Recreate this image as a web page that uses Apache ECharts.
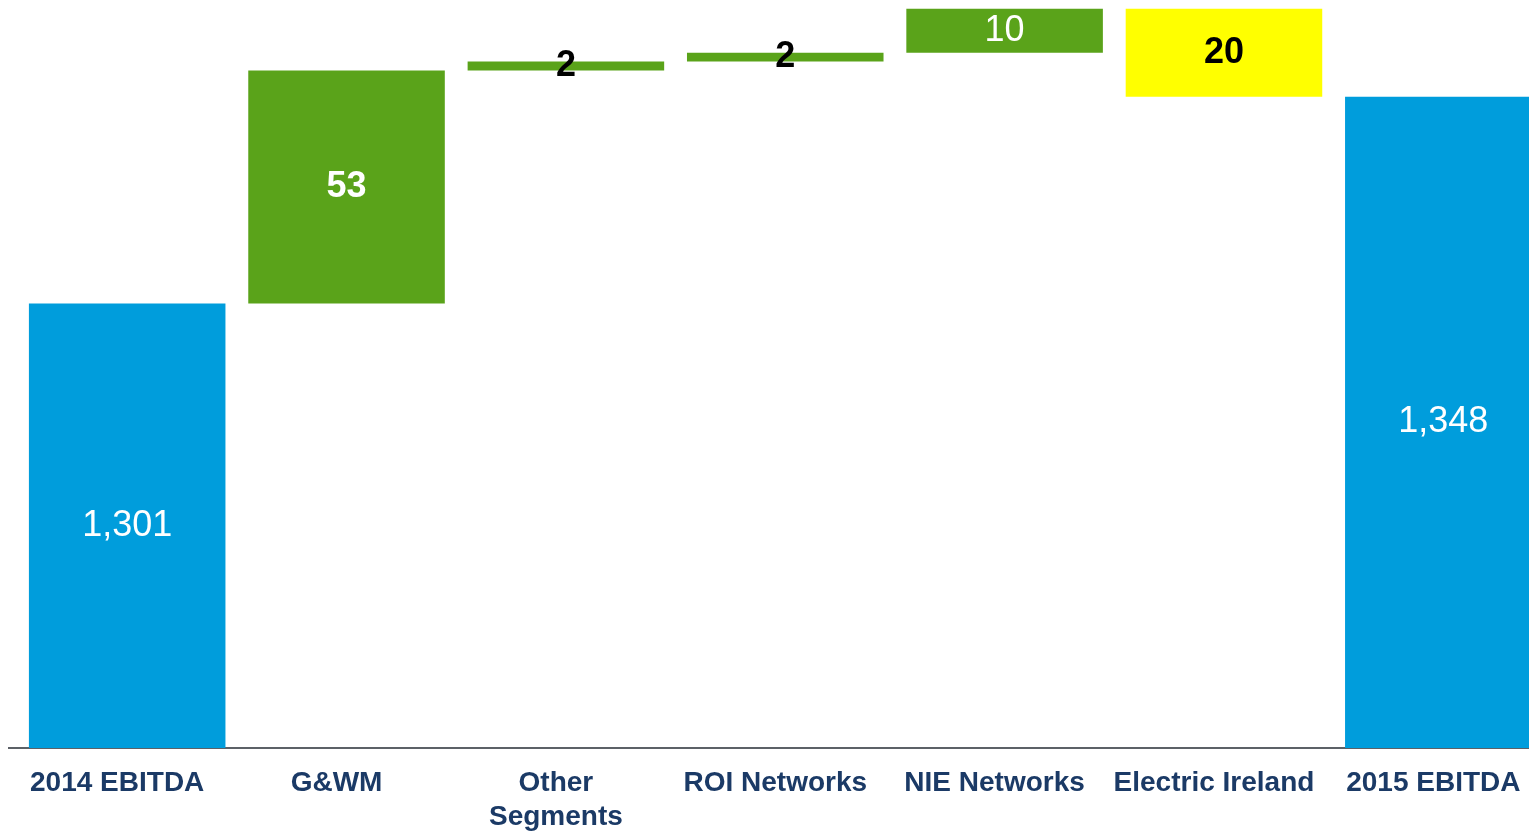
<!DOCTYPE html>
<html>
<head>
<meta charset="utf-8">
<title>EBITDA bridge 2014 to 2015</title>
<script src="https://cdn.jsdelivr.net/npm/echarts@6/dist/echarts.min.js"></script>
<style>
  html, body { margin: 0; padding: 0; background: #ffffff; overflow: hidden; }
  /* the last column runs past the right edge of the page */
  #chart { width: 1553px; height: 832px; }
</style>
</head>
<body>
<div id="chart"></div>
<script>
// Bridge categories (start total, segment movements, end total)
const categories = ['2014 EBITDA', 'G&WM', 'Other\nSegments', 'ROI Networks', 'NIE Networks', 'Electric Ireland', '2015 EBITDA'];
// Bar kind per category: total, increase or decrease
const kinds = ['total', 'up', 'up', 'up', 'up', 'down', 'total'];
// Values as labelled (EUR m)
const values = [1301, 53, 2, 2, 10, 20, 1348];
// Value axis range
const axisMin = 1200;
const axisMax = 1370;

const colors = { total: '#009ddc', up: '#5aa31a', down: '#ffff00' };
const labelColors = ['#ffffff', '#ffffff', '#000000', '#000000', '#ffffff', '#000000', '#ffffff'];
const labelWeights = ['normal', 'bold', 'bold', 'bold', 'normal', 'bold', 'normal'];

// Invisible base for each floating bar: running total before an increase,
// running total after a decrease; totals stand on the axis.
const base = [];
let running = 0;
values.forEach((v, i) => {
  if (kinds[i] === 'total') { base.push(0); running = v; }
  else if (kinds[i] === 'up') { base.push(running); running += v; }
  else { running -= v; base.push(running); }
});

const fmt = v => v.toLocaleString('en-US');
const AXIS_Y = 748;

const chart = echarts.init(document.getElementById('chart'));
chart.setOption({
  animation: false,
  backgroundColor: '#ffffff',
  grid: { left: 17.5, right: 0, top: 0, height: AXIS_Y, containLabel: false, outerBoundsMode: 'none' },
  xAxis: {
    type: 'category',
    data: categories,
    axisLine: { show: true, lineStyle: { color: '#5c6167', width: 2 } },
    axisTick: { show: false },
    axisLabel: {
      interval: 0,
      margin: 18,
      color: '#1b3a66',
      fontFamily: 'Liberation Sans, Arial, sans-serif',
      fontWeight: 'bold',
      fontSize: 28,
      lineHeight: 34,
      padding: [0, 20, 0, 0]
    }
  },
  yAxis: {
    type: 'value',
    min: axisMin,
    max: axisMax,
    show: false,
    splitLine: { show: false }
  },
  series: [
    {
      name: 'base',
      type: 'bar',
      stack: 'bridge',
      barWidth: '89.6%',
      silent: true,
      itemStyle: { color: 'transparent' },
      data: base
    },
    {
      name: 'movement',
      type: 'bar',
      stack: 'bridge',
      barWidth: '89.6%',
      data: values.map((v, i) => ({
        value: v,
        itemStyle: { color: colors[kinds[i]] },
        label: { color: labelColors[i], fontWeight: labelWeights[i] }
      })),
      label: {
        show: true,
        position: 'inside',
        fontFamily: 'Liberation Sans, Arial, sans-serif',
        fontSize: 36,
        formatter: p => fmt(p.value)
      }
    }
  ],
  graphic: [
    // axis rule continues a little left of the first column
    { type: 'line', x: 8, y: AXIS_Y, shape: { x1: 0, y1: 0, x2: 12, y2: 0 },
      style: { stroke: '#5c6167', lineWidth: 2 }, silent: true }
  ]
});
</script>
</body>
</html>
